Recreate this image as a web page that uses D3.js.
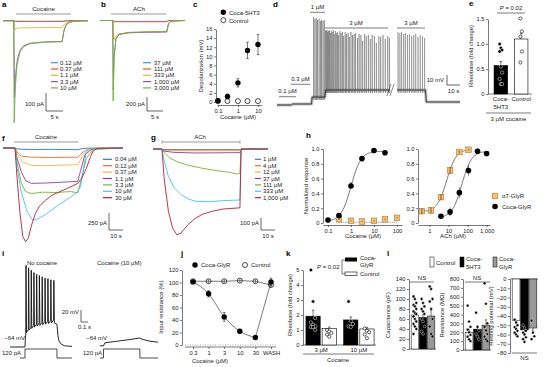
<!DOCTYPE html>
<html><head><meta charset="utf-8">
<script src="https://cdn.jsdelivr.net/npm/d3@7"></script>
<style>body{margin:0;background:#fff}svg{display:block}</style>
</head><body><svg id="c" width="554" height="367"></svg>
<script>
// ================= DATA =================
// a: cocaine-evoked currents (t s, I pA)
const aLabels = ["0.12 µM","0.37 µM","1.1 µM","3.3 µM","10 µM"];
const aColors = ["#3d9ad6","#e5533b","#f2b12b","#9a52b0","#6db33f"];
const aTraces = [
  [[0,0],[3.2,0],[3.6,-3],[17.6,-3],[19,0],[25,0]],
  [[0,1],[3.2,1],[3.6,-4],[10,-5],[17.6,-4],[19,0],[25,0]],
  [[0,0],[3.2,0],[3.5,-50],[4,-42],[6,-40],[12,-38],[17.4,-38],[18,-22],[18.8,-10],[20,-4],[22,-1],[25,0]],
  [[0,0],[3.2,0],[3.4,-425],[3.7,-300],[4.2,-215],[5,-165],[6,-140],[8,-125],[12,-118],[17.4,-115],[17.9,-60],[18.5,-25],[19.5,-10],[21,-3],[25,0]],
  [[0,0],[3.1,0],[3.3,-567],[3.6,-380],[4.1,-250],[5,-175],[6,-145],[8,-128],[12,-120],[17.4,-117],[17.9,-55],[18.6,-20],[19.5,-6],[21,-1],[25,0]]
];
// b: ACh-evoked currents
const bLabels = ["37 µM","111 µM","333 µM","1,000 µM","3,000 µM"];
const bColors = ["#3d9ad6","#e5533b","#f2b12b","#9a52b0","#6db33f"];
const bTraces = [
  [[0,0],[4,0],[4.4,-12],[20.9,-12],[21.5,0],[26.5,0]],
  [[0,0],[4,0],[4.4,-18],[20.9,-18],[21.5,0],[26.5,0]],
  [[0,0],[4,0],[4.3,-280],[4.8,-230],[6,-190],[9,-175],[15,-165],[20.8,-160],[21.4,-40],[22.2,-8],[26.5,0]],
  [[0,0],[4,0],[4.15,-990],[4.4,-500],[5,-260],[6,-200],[9,-175],[15,-168],[20.8,-165],[21.4,-40],[22.2,-8],[26.5,0]],
  [[0,0],[3.95,0],[4.1,-1150],[4.35,-550],[5,-250],[6,-195],[9,-170],[15,-160],[20.8,-158],[21.4,-40],[22.2,-8],[26.5,0]]
];
// c: depolarization
const cConc = [0.1,0.3,1,3,10];
const cCoca = [0.3,1.2,4.2,11.3,12.6];
const cCocaErr = [0.5,0.5,0.9,1.8,2.2];
const cCtrl = [0.2,0.2,0.2,0.2,0.2];
const cCtrlErr = [0.3,0.3,0.3,0.4,0.3];
// d: membrane potential (t s, mV)
const dBase1 = [[0,-70],[11,-70],[12,-69],[26.4,-69],[26.9,-62],[36.8,-62],[37.1,-55],[86.5,-55]];
const dBase2 = [[91.8,-55],[113.6,-55],[114.2,-67],[140,-67]];
const dSpikeT1 = [28.0,29.0,30.1,31.0,32.2,33.3,34.1,35.2,36.2];
const dSpikeP1 = [18,16,17,15,16,14,15,14,15];
const dSpikeT2 = [37.2,37.7,38.3,38.8,39.4,40.1,40.7,41.5,42.2,43.0,43.7,44.6,45.4,46.3,47.1,48.2,49.0,50.1,51.0,52.2,53.1,54.4,55.3,56.6,57.8,59.0,60.1,61.6,62.8,64.2,65.5,67.0,68.3,69.9,71.4,72.8,74.5,76.0,77.9,79.3,81.1,82.8,84.7,86.0];
const dSpikeP2 = [5,4,5,3,4,5,2,4,3,5,1,4,2,3,0,4,2,3,-1,3,1,2,-2,3,0,1,2,-3,1,0,-6,1,-1,0,-4,0,-1,-8,-1,-2,0,-4,-1,-3];
const dSpikeT3 = [92.6,94.0,95.3,96.9,98.2,99.8,101.3,103.0,104.6,106.1,107.9,109.6,111.3,112.9];
const dSpikeP3 = [3,2,3,1,2,0,1,-1,0,1,-2,0,-1,-3];
// e: rheobase
const eCats = ["Coca-5HT3","Control"];
const eMeans = [0.57,1.1];
const eErr = [0.08,0.12];
const eCocaDots = [1.0,0.92,0.88,0.85,0.55,0.43,0.3,0.2,0.2];
const eCtrlDots = [1.51,1.25,1.15,0.85,0.63];
// f: cocaine currents (Coca-GlyR)
const fLabels = ["0.04 µM","0.12 µM","0.37 µM","1.1 µM","3.3 µM","10 µM","30 µM"];
const fgColors = ["#2b7bba","#ee6a3a","#f4b53f","#8d3ea3","#7bb03c","#4ac0ec","#b3203c"];
const fTraces = [
  [[0,0],[8.5,0],[10,-15],[20,-22],[35,-20],[53,-25],[56,-10],[60,-3],[70,0],[85,0]],
  [[0,0],[8.5,0],[10,-60],[13,-120],[20,-135],[35,-140],[53,-135],[56,-70],[60,-20],[65,-5],[85,0]],
  [[0,0],[8.5,0],[10,-90],[14,-210],[20,-255],[30,-260],[45,-250],[53,-245],[56,-130],[60,-35],[66,-5],[85,0]],
  [[0,0],[8.5,0],[10,-150],[13,-350],[16,-480],[20,-520],[30,-515],[45,-500],[53,-490],[55,-330],[58,-100],[63,-15],[85,0]],
  [[0,0],[8.5,0],[10,-220],[13,-520],[16,-640],[20,-670],[28,-650],[38,-655],[48,-640],[53,-660],[56,-420],[59,-150],[64,-20],[85,0]],
  [[0,0],[8.5,0],[10,-300],[13,-650],[17,-930],[21,-1060],[24,-1050],[30,-980],[40,-830],[48,-720],[53,-640],[55,-560],[57,-300],[59,-60],[61,-5],[85,0]],
  [[0,0],[8.5,0],[10,-450],[12,-950],[14,-1300],[16,-1380],[18,-1320],[20,-1150],[23,-960],[26,-850],[30,-770],[35,-690],[45,-600],[53,-520],[56,-440],[59,-300],[62,-130],[64,-40],[67,-5],[85,0]]
];
// g: ACh currents (α7-GlyR)
const gLabels = ["1 µM","4 µM","12 µM","37 µM","111 µM","333 µM","1,000 µM"];
const gTraces = [
  [[0,0],[6.4,0],[7,-5],[62,-5],[63,0],[82,0]],
  [[0,0],[6.4,0],[7,-8],[62,-8],[63,0],[82,0]],
  [[0,0],[6.4,0],[7.5,-12],[30,-14],[62,-12],[63,0],[82,0]],
  [[0,0],[6.4,0],[8,-18],[15,-28],[30,-33],[45,-32],[62,-30],[62.8,0],[82,0]],
  [[0,0],[6.4,0],[8,-30],[12,-75],[18,-110],[25,-135],[35,-160],[45,-180],[55,-195],[60,-210],[62,-200],[62.8,0],[82,0]],
  [[0,0],[6.4,0],[8,-100],[11,-230],[15,-320],[20,-380],[25,-415],[30,-435],[40,-440],[50,-430],[62,-425],[62.8,-10],[63.5,0],[82,0]],
  [[0,0],[6.4,0],[8,-250],[11,-520],[14,-660],[17,-715],[20,-700],[25,-630],[30,-580],[35,-545],[42,-520],[50,-500],[62,-490],[62.8,-10],[63.5,0],[82,0]]
];
// h: dose-response
const hLCocaConc = [0.1,0.3,1,3,10,30];
const hLCocaVal = [0.04,0.1,0.5,0.87,0.98,0.95];
const hLCocaErr = [0.01,0.02,0.04,0.03,0.02,0.02];
const hLA7Conc = [0.3,1,3,10,30,100];
const hLA7Val = [0.05,0.03,0.02,0.03,0.05,0.07];
const hRA7Conc = [0.4,1.2,4,12,37,111];
const hRA7Val = [0.16,0.17,0.35,0.71,0.96,0.99];
const hRA7Err = [0.04,0.04,0.04,0.05,0.02,0.01];
const hRCocaConc = [4,12,37,111,333,1000];
const hRCocaVal = [0.09,0.15,0.41,0.71,0.97,0.94];
const hRCocaErr = [0.01,0.04,0.05,0.05,0.02,0.01];
// Hill fit parameters [bottom, top, EC50, n]
const hFitLCoca = [0.02,0.97,1.0,2.0];
const hFitRA7 = [0.15,1.0,8,1.7];
const hFitRCoca = [0.07,0.97,50,1.7];
// i: current-clamp (t s, mV)
const iSpikeT = [0.225,0.262,0.300,0.338,0.377,0.416,0.456,0.497,0.538,0.580,0.623];
const iSpikePeak = [72,68,64,60,57,55,53,51,50,48,47];
const iTrough = [-40,-36,-33,-31,-29,-28,-27,-26,-25,-24,-24];
const iTail = [[0.671,-26],[0.685,-45],[0.7,-54],[0.73,-59],[0.78,-62],[0.886,-63]];
const iCocaTrace = [[0,-62],[0.05,-62],[0.07,-57],[0.2,-55],[0.4,-52],[0.57,-49],[0.6,-51],[0.7,-54],[0.83,-56]];
const iStepL = [[0.143,0],[0.214,0],[0.214,120],[0.671,120],[0.671,0],[0.886,0]];
const iStepR = [[0.0,0],[0.05,0],[0.05,120],[0.571,120],[0.571,0],[0.83,0]];
// j: input resistance
const jCats = ["0.3","1","3","10","30","WASH"];
const jCoca = [101,82,45,22,12,101];
const jCocaErr = [2,5,7,3,2,6];
const jCtrl = [102,102,102,103,102,96];
const jCtrlErr = [3,3,3,3,3,4];
// k: rheobase
const kGroups = ["3 µM","10 µM"];
const kMeansCoca = [1.92,1.67];
const kErrCoca = [0.4,0.2];
const kMeansCtrl = [1.1,1.07];
const kErrCtrl = [0.1,0.1];
const kDotsCoca = [[5.0,2.9,1.8,1.5,1.35,1.25,1.2,1.2,1.0],[2.9,1.6,1.4,1.25,1.2]];
const kDotsCtrl = [[1.0,0.9,0.8,0.7,0.55],[1.1,0.95,0.85,0.7,0.45]];
// l: passive properties
const lCats = ["Control","Coca-5HT3","Coca-GlyR"];
const lCapMean = [68,63,66], lCapErr = [5,6,12];
const lCapDots = [[105,100,92,88,85,80,75,72,70,65,60,55,50,45,40,30],[100,92,85,80,75,70,60,55,45,35,30],[125,120,100,95,80,60,45,30,25]];
const lResMean = [200,235,280], lResErr = [30,35,60];
const lResDots = [[500,320,260,230,200,170,150,120,100],[420,260,220,180,150,120],[750,520,300,260,220,180,150,120,100]];
const lRestMean = [-45,-55,-53], lRestErr = [2,2,3];
const lRestDots = [[-44,-47,-50,-52,-54,-56,-58,-60,-62],[-50,-53,-56,-58,-60,-63,-65,-68],[-45,-58,-62,-65]];
const lFills = ["#fff","#000","#999"];

// ================= DRAW =================
const FONT = '"Liberation Sans", Arial, Helvetica, sans-serif';
const svg = d3.select("#c");
svg.append("rect").attr("width",554).attr("height",367).attr("fill","#fff");

function txt(x,y,s,o={}){return svg.append("text").attr("x",x).attr("y",y).text(s)
  .attr("font-size",o.size||6).attr("text-anchor",o.anchor||"start").attr("font-weight",o.weight||"normal")
  .attr("font-style",o.style||"normal").attr("fill",o.fill||"#222").attr("font-family",FONT);}
function vtxt(x,y,s,size=6){return svg.append("text").attr("transform",`translate(${x},${y}) rotate(-90)`)
  .attr("text-anchor","middle").text(s).attr("font-size",size).attr("fill","#222").attr("font-family",FONT);}
function ln(x1,y1,x2,y2,w=0.6,c="#222",dash=null){const l=svg.append("line").attr("x1",x1).attr("y1",y1).attr("x2",x2).attr("y2",y2).attr("stroke",c).attr("stroke-width",w);if(dash)l.attr("stroke-dasharray",dash);return l;}
function plabel(x,y,s){txt(x,y,s,{size:8,weight:"bold",fill:"#000"});}
function trace(data,xs,ys,color,w=0.9){svg.append("path").datum(data)
  .attr("d",d3.line().x(d=>xs(d[0])).y(d=>ys(d[1]))).attr("fill","none").attr("stroke",color)
  .attr("stroke-width",w).attr("stroke-linejoin","round");}
function styleAxis(g){g.select(".domain").attr("stroke","#222").attr("stroke-width",0.6);
  g.selectAll(".tick line").attr("stroke","#222").attr("stroke-width",0.6);
  g.selectAll(".tick text").attr("font-size",5.8).attr("fill","#222").attr("font-family",FONT);}
function axL(scale,x,ticks,fmt){const g=svg.append("g").attr("transform",`translate(${x},0)`)
  .call(d3.axisLeft(scale).tickValues(ticks).tickFormat(fmt||(d=>d)).tickSize(2).tickSizeOuter(0).tickPadding(1.5));styleAxis(g);return g;}
function axB(scale,y,ticks,fmt){const g=svg.append("g").attr("transform",`translate(0,${y})`)
  .call(d3.axisBottom(scale).tickValues(ticks).tickFormat(fmt||(d=>d)).tickSize(2).tickSizeOuter(0).tickPadding(1.5));styleAxis(g);return g;}
function errV(x,y1,y2,c="#222",cap=1.3){ln(x,y1,x,y2,0.6,c);ln(x-cap,y2,x+cap,y2,0.6,c);}

// ---- panel a ----
plabel(2,7,"a");
{
  const xs=d3.scaleLinear([0,25],[3,88]), ys=d3.scaleLinear([0,-600],[20.7,128.7]);
  ln(16,14,71,14,1,"#999");
  txt(43.5,11,"Cocaine",{anchor:"middle",size:6.2});
  aTraces.forEach((t,i)=>trace(t,xs,ys,aColors[i],0.9));
  aLabels.forEach((l,i)=>{const y=62.7+i*6.3;ln(51,y,58,y,1.2,aColors[i]);txt(60,y+2,l,{size:6});});
  ln(46,93,46,111,0.7);ln(46,111,63,111,0.7);
  txt(44,106,"100 pA",{anchor:"end",size:6});txt(54.5,119,"5 s",{anchor:"middle",size:6});
}
// ---- panel b ----
plabel(101,7,"b");
{
  const xs=d3.scaleLinear([0,26.5],[100,185]), ys=d3.scaleLinear([0,-1000],[20.5,90.5]);
  ln(111,14,166,14,1,"#999");
  txt(139,11,"ACh",{anchor:"middle",size:6.2});
  bTraces.forEach((t,i)=>trace(t,xs,ys,bColors[i],0.9));
  bLabels.forEach((l,i)=>{const y=62.7+i*6.3;ln(143,y,151,y,1.2,bColors[i]);txt(154,y+2,l,{size:6});});
  ln(147,97,147,111,0.7);ln(147,111,163,111,0.7);
  txt(145,106,"200 pA",{anchor:"end",size:6});txt(155,119,"5 s",{anchor:"middle",size:6});
}
// ---- panel c ----
plabel(193,7,"c");
{
  const xs=d3.scaleLog([0.09,15],[217,261.5]), ys=d3.scaleLinear([0,16],[102,29]);
  axL(ys,216,[0,2,4,6,8,10,12,14,16]);
  axB(xs,105,[0.1,1,10],d=>d);
  vtxt(203,66,"Depolarization (mV)",6);
  txt(238,119,"Cocaine (µM)",{anchor:"middle",size:6});
  cConc.forEach((c,i)=>{errV(xs(c),ys(cCtrl[i]),ys(cCtrl[i]+cCtrlErr[i]));errV(xs(c),ys(cCtrl[i]),ys(cCtrl[i]-cCtrlErr[i]));
    svg.append("circle").attr("cx",xs(c)).attr("cy",ys(cCtrl[i])).attr("r",2.5).attr("fill","#fff").attr("stroke","#000").attr("stroke-width",0.7);});
  cConc.forEach((c,i)=>{errV(xs(c),ys(cCoca[i]),ys(cCoca[i]+cCocaErr[i]));errV(xs(c),ys(cCoca[i]),ys(cCoca[i]-cCocaErr[i]));
    svg.append("circle").attr("cx",xs(c)).attr("cy",ys(cCoca[i])).attr("r",2.7).attr("fill","#000");});
  svg.append("circle").attr("cx",223.3).attr("cy",12.3).attr("r",2.7).attr("fill","#000");
  txt(229,14.5,"Coca-5HT3",{size:6});
  svg.append("circle").attr("cx",223.3).attr("cy",20.2).attr("r",2.5).attr("fill","#fff").attr("stroke","#000").attr("stroke-width",0.7);
  txt(229,22.5,"Control",{size:6});
}
// ---- panel d ----
plabel(273,7,"d");
{
  const xs=d3.scaleLinear([0,140],[277,460]), ys=d3.scaleLinear([-70,20],[105,15]);
  const baseAt=(pts,t)=>{for(let k=1;k<pts.length;k++){if(t<=pts[k][0]){const a=pts[k-1],b=pts[k];return a[1]+(b[1]-a[1])*(t-a[0])/(b[0]-a[0]);}}return pts[pts.length-1][1];};
  function build(base,sets){let pts=base.map(p=>[p[0],p[1]]);
    sets.forEach(([T,P])=>T.forEach((t,k)=>{const b=baseAt(base,t);pts.push([t-0.05,b],[t,P[k]],[t+0.15,b-3],[t+0.45,b]);}));
    pts.sort((a,b)=>a[0]-b[0]);return pts;}
  trace(dBase1,xs,ys,"#c4c4c4",3.2);trace(dBase2,xs,ys,"#c4c4c4",3.2);
  trace(build(dBase1,[[dSpikeT1,dSpikeP1],[dSpikeT2,dSpikeP2]]),xs,ys,"#6a6a6a",0.5);
  trace(build(dBase2,[[dSpikeT3,dSpikeP3]]),xs,ys,"#777",0.5);
  trace(dBase1,xs,ys,"#222",0.7);trace(dBase2,xs,ys,"#222",0.7);
  ln(387,96,391,84,0.6,"#444");ln(390,96,394,84,0.6,"#444");
  ln(279,96.7,296,96.7,0.6);txt(287.5,93,"0.1 µM",{anchor:"middle",size:6});
  ln(291,84.3,310,84.3,0.6);txt(300.5,80.5,"0.3 µM",{anchor:"middle",size:6});
  ln(310,12.3,325,12.3,0.6);txt(317.5,9,"1 µM",{anchor:"middle",size:6});
  ln(325,28,388,28,0.6);txt(356,25,"3 µM",{anchor:"middle",size:6});
  ln(397,28,425,28,0.6);txt(411,25,"3 µM",{anchor:"middle",size:6});
  ln(447,75,447,85,0.7);ln(447,85,460,85,0.7);
  txt(444,82,"10 mV",{anchor:"end",size:6});txt(453.5,93,"10 s",{anchor:"middle",size:6});
}
// ---- panel e ----
plabel(469,6,"e");
{
  const ys=d3.scaleLinear([0,1.5],[94,19]);
  const xb=d3.scaleBand(eCats,[490,532]).paddingInner(0.33).paddingOuter(0.2);
  axL(ys,488,[0,0.5,1,1.5],d=>d===0?"0":d3.format(".1f")(d));
  ln(488,94,532,94,0.6);
  vtxt(473,56,"Rheobase (fold change)",5.8);
  eCats.forEach((c,i)=>{const x=xb(c),w=xb.bandwidth();
    errV(x+w/2,ys(eMeans[i]),ys(eMeans[i]+eErr[i]));
    svg.append("rect").attr("x",x).attr("y",ys(eMeans[i])).attr("width",w).attr("height",94-ys(eMeans[i]))
      .attr("fill",i===0?"#000":"#fff").attr("stroke","#000").attr("stroke-width",0.6);});
  const cx0=xb(eCats[0])+xb.bandwidth()/2, cx1=xb(eCats[1])+xb.bandwidth()/2;
  eCocaDots.forEach((v,k)=>svg.append("circle").attr("cx",cx0+((k%3)-1)*1.2).attr("cy",ys(v)).attr("r",1.7).attr("fill","#000").attr("stroke","#fff").attr("stroke-width",0.5));
  eCtrlDots.forEach((v,k)=>svg.append("circle").attr("cx",cx1+((k%2)-0.5)*1.5).attr("cy",ys(v)).attr("r",1.6).attr("fill","#fff").attr("stroke","#000").attr("stroke-width",0.6));
  txt(511,10,"",{anchor:"middle",size:6}).html('<tspan font-style="italic">P</tspan> = 0.02');
  ln(497,13,525,13,0.6);
  txt(cx0,101,"Coca-",{anchor:"middle",size:6});txt(cx0,108.5,"5HT3",{anchor:"middle",size:6});
  txt(cx1,101,"Control",{anchor:"middle",size:6});
  ln(486,113,531,113,0.6);txt(508.5,120.5,"3 µM cocaine",{anchor:"middle",size:6});
}
// ---- panel f ----
plabel(2,141,"f");
{
  const xs=d3.scaleLinear([0,85],[3,123]), ys=d3.scaleLinear([0,-1500],[148,250]);
  ln(14,142,78,142,1,"#999");txt(46,138.5,"Cocaine",{anchor:"middle",size:6});
  fTraces.forEach((t,i)=>trace(t,xs,ys,fgColors[i],0.9));
  fLabels.forEach((l,i)=>{const y=159.3+i*6.4;ln(103,y,112,y,1.2,fgColors[i]);txt(115,y+2,l,{size:6});});
  ln(109,213,109,230,0.7);ln(109,230,123,230,0.7);
  txt(107,225,"250 pA",{anchor:"end",size:6});txt(116,238,"10 s",{anchor:"middle",size:6});
}
// ---- panel g ----
plabel(151,140,"g");
{
  const xs=d3.scaleLinear([0,82],[153,268]), ys=d3.scaleLinear([0,-800],[149,245]);
  ln(162,142,240,142,1,"#999");ln(162,140,162,144,0.7,"#999");ln(240,140,240,144,0.7,"#999");
  txt(200,138.5,"ACh",{anchor:"middle",size:6});
  gTraces.forEach((t,i)=>trace(t,xs,ys,fgColors[i],0.9));
  gLabels.forEach((l,i)=>{const y=159.3+i*6.4;ln(255,y,261,y,1.2,fgColors[i]);txt(263,y+2,l,{size:6});});
  ln(261,218,261,230,0.7);ln(261,230,275,230,0.7);
  txt(259,225,"100 pA",{anchor:"end",size:6});txt(268,238,"10 s",{anchor:"middle",size:6});
}
// ---- panel h ----
plabel(306,138,"h");
{
  const ys=d3.scaleLinear([0,1],[223,149]);
  const xL=d3.scaleLog([0.0607,165],[323,402]), xR=d3.scaleLog([0.25,1500],[418,490]);
  const yfmt=d=>d===0?"0":d3.format(".1f")(d);
  axL(ys,323,[0,0.2,0.4,0.6,0.8,1.0],yfmt);axL(ys,418,[0,0.2,0.4,0.6,0.8,1.0],yfmt);
  axB(xL,225,[0.1,1,10,100],d=>d);axB(xR,225,[1,10,100,1000],d3.format(","));
  vtxt(308,186,"Normalized response",6);
  txt(363,238,"Cocaine (µM)",{anchor:"middle",size:6});txt(453,238,"ACh (µM)",{anchor:"middle",size:6});
  const hill=(p,c)=>p[0]+(p[1]-p[0])*Math.pow(c/p[2],p[3])/(1+Math.pow(c/p[2],p[3]));
  const fit=(p,a,b,xs)=>{const pts=d3.range(0,61).map(k=>{const c=Math.pow(10,Math.log10(a)+(Math.log10(b)-Math.log10(a))*k/60);return [c,hill(p,c)];});
    svg.append("path").datum(pts).attr("d",d3.line().x(d=>xs(d[0])).y(d=>ys(d[1]))).attr("fill","none").attr("stroke","#444").attr("stroke-width",0.7);};
  ln(xL(0.3),ys(0.01),xL(100),ys(0.01),0.6,"#222","1,1.2");
  fit(hFitLCoca,0.1,30,xL);fit(hFitRA7,0.4,111,xR);fit(hFitRCoca,4,1000,xR);
  const sq=(x,y)=>svg.append("rect").attr("x",x-2.8).attr("y",y-2.8).attr("width",5.6).attr("height",5.6).attr("fill","#f2c274").attr("stroke","#b07a2a").attr("stroke-width",0.6);
  const dot=(x,y)=>svg.append("circle").attr("cx",x).attr("cy",y).attr("r",2.8).attr("fill","#000");
  hLA7Conc.forEach((c,i)=>{sq(xL(c),ys(hLA7Val[i]));svg.append("circle").attr("cx",xL(c)).attr("cy",ys(hLA7Val[i])).attr("r",0.5).attr("fill","#333");});
  hLCocaConc.forEach((c,i)=>{errV(xL(c),ys(hLCocaVal[i]),ys(hLCocaVal[i]+hLCocaErr[i]));dot(xL(c),ys(hLCocaVal[i]));});
  hRA7Conc.forEach((c,i)=>{sq(xR(c),ys(hRA7Val[i]));ln(xR(c),ys(hRA7Val[i]-hRA7Err[i]),xR(c),ys(hRA7Val[i]+hRA7Err[i]),0.6);});
  hRCocaConc.forEach((c,i)=>{ln(xR(c),ys(hRCocaVal[i]-hRCocaErr[i]-0.02),xR(c),ys(hRCocaVal[i]+hRCocaErr[i]+0.02),0.6);dot(xR(c),ys(hRCocaVal[i]));});
  sq(495,196);txt(502,198.2,"α7-GlyR",{size:6});
  dot(495,206.5);txt(502,208.7,"Coca-GlyR",{size:6});
}
// ---- panel i ----
plabel(2,256,"i");
{
  const xs=d3.scaleLinear([0,0.886],[10,72]), ys=d3.scaleLinear([-64,80],[347,260.6]);
  const xs2=d3.scaleLinear([0,0.83],[100,158]);
  const yst=d3.scaleLinear([0,120],[358,349]);
  let pts=[[0,-64],[0.214,-64],[0.221,-45]];
  iSpikeT.forEach((t,k)=>{const prev=k===0?-45:iTrough[k-1]+5;pts.push([t,prev],[t+0.004,iSpikePeak[k]],[t+0.011,iTrough[k]]);});
  iTail.forEach(p=>pts.push(p));
  trace(pts,xs,ys,"#111",0.9);
  trace(iCocaTrace,xs2,ys,"#111",0.9);
  trace(iStepL,xs,yst,"#222",0.8);trace(iStepR,xs2,yst,"#222",0.8);
  txt(27,265,"No cocaine",{size:6});txt(97,265,"Cocaine (10 µM)",{size:6});
  txt(25,340,"−64 mV",{anchor:"end",size:6});txt(107,340,"−64 mV",{anchor:"end",size:6});
  txt(2,355,"120 pA",{size:6});txt(83,355,"120 pA",{size:6});
  ln(81,310,81,322,0.7);ln(81,322,88,322,0.7);
  txt(79,314,"20 mV",{anchor:"end",size:6});txt(84.5,329,"0.1 s",{anchor:"middle",size:6});
}
// ---- panel j ----
plabel(181,256,"j");
{
  const xs=d3.scalePoint(jCats,[193,271]), ys=d3.scaleLinear([0,120],[345,270]);
  axL(ys,182,[0,20,40,60,80,100,120]);
  axB(xs,347,jCats).select(".domain").attr("d","M185,0H276");
  ln(185,345,276,345,0.5,"#555","1,1.5");
  vtxt(163,307,"Input resistance (%)",6);
  txt(210,363,"Cocaine (µM)",{anchor:"middle",size:6});
  svg.append("path").datum(jCats.map((c,i)=>[c,jCtrl[i]])).attr("d",d3.line().x(d=>xs(d[0])).y(d=>ys(d[1]))).attr("fill","none").attr("stroke","#444").attr("stroke-width",0.7);
  svg.append("path").datum(jCats.slice(0,5).map((c,i)=>[c,jCoca[i]])).attr("d",d3.line().curve(d3.curveMonotoneX).x(d=>xs(d[0])).y(d=>ys(d[1]))).attr("fill","none").attr("stroke","#444").attr("stroke-width",0.7);
  ln(xs("30"),ys(jCoca[4]),xs("WASH"),ys(jCoca[5]),0.7,"#444");
  jCats.forEach((c,i)=>{ln(xs(c),ys(jCtrl[i]-jCtrlErr[i]),xs(c),ys(jCtrl[i]+jCtrlErr[i]),0.6);
    svg.append("circle").attr("cx",xs(c)).attr("cy",ys(jCtrl[i])).attr("r",2.5).attr("fill","none").attr("stroke","#000").attr("stroke-width",0.7);});
  jCats.forEach((c,i)=>{errV(xs(c),ys(jCoca[i]),ys(jCoca[i]+jCocaErr[i]));errV(xs(c),ys(jCoca[i]),ys(jCoca[i]-jCocaErr[i]));
    svg.append("circle").attr("cx",xs(c)).attr("cy",ys(jCoca[i])).attr("r",2.7).attr("fill","#000");});
  svg.append("circle").attr("cx",195).attr("cy",265).attr("r",2.7).attr("fill","#000");txt(201,267.2,"Coca-GlyR",{size:6});
  svg.append("circle").attr("cx",245).attr("cy",265).attr("r",2.5).attr("fill","#fff").attr("stroke","#000").attr("stroke-width",0.7);txt(251,267.2,"Control",{size:6});
}
// ---- panel k ----
plabel(286,256,"k");
{
  const ys=d3.scaleLinear([0,5],[345,270]);
  const xg=d3.scaleBand(kGroups,[304,376]).paddingInner(0.15).paddingOuter(0.03);
  const xi=d3.scaleBand(["Coca","Ctrl"],[0,xg.bandwidth()]).paddingInner(0.12).paddingOuter(0.05);
  axL(ys,303,[0,1,2,3,4,5]);ln(303,345,376,345,0.6);
  vtxt(292,305,"Rheobase (fold change)",5.8);
  kGroups.forEach((g,gi)=>{
    [["Coca",kMeansCoca,kErrCoca,kDotsCoca,"#000"],["Ctrl",kMeansCtrl,kErrCtrl,kDotsCtrl,"#fff"]].forEach(([k,m,e,dots,fill])=>{
      const x=xg(g)+xi(k),w=xi.bandwidth(),cx=x+w/2;
      errV(cx,ys(m[gi]),ys(m[gi]+e[gi]));
      svg.append("rect").attr("x",x).attr("y",ys(m[gi])).attr("width",w).attr("height",345-ys(m[gi])).attr("fill",fill).attr("stroke","#000").attr("stroke-width",0.6);
      dots[gi].forEach((v,j)=>{const dx=((j%3)-1)*2.2;
        if(k==="Coca")svg.append("circle").attr("cx",cx+dx).attr("cy",ys(v)).attr("r",1.7).attr("fill","#000").attr("stroke","#fff").attr("stroke-width",0.5);
        else svg.append("circle").attr("cx",cx+dx).attr("cy",ys(v)).attr("r",1.6).attr("fill","#fff").attr("stroke","#000").attr("stroke-width",0.6);});
    });
    txt(xg(g)+xg.bandwidth()/2,351.5,g,{anchor:"middle",size:6});
  });
  ln(303,354,374,354,0.6);txt(338,362,"Cocaine",{anchor:"middle",size:6});
  txt(317,268.5,"",{size:6}).html('<tspan font-style="italic">P</tspan> = 0.02');
  ln(342,260,342,274,0.6);ln(342,260,345,260,0.6);ln(342,274,345,274,0.6);
  svg.append("rect").attr("x",345).attr("y",257.5).attr("width",12).attr("height",4).attr("fill","#000");
  svg.append("rect").attr("x",345).attr("y",272).attr("width",12).attr("height",3.5).attr("fill","#fff").attr("stroke","#000").attr("stroke-width",0.6);
  txt(360,259.5,"Coca-",{size:6});txt(360,267,"GlyR",{size:6});txt(360,276,"Control",{size:6});
}
// ---- panel l ----
plabel(387,256,"l");
{
  [[430,"#fff"],[460,"#000"],[493,"#999"]].forEach(([x,f])=>svg.append("rect").attr("x",x).attr("y",257).attr("width",4).attr("height",10).attr("fill",f).attr("stroke","#000").attr("stroke-width",0.5));
  txt(436,264.5,"Control",{size:6});txt(466,261,"Coca-",{size:6});txt(466,268.5,"5HT3",{size:6});
  txt(499,261,"Coca-",{size:6});txt(499,268.5,"GlyR",{size:6});
  function sub(ys,axX,r0,r1,ticks,means,errs,dots,zeroY,fmt){
    axL(ys,axX,ticks,fmt);
    const xb=d3.scaleBand(lCats,[r0,r1]).paddingInner(0.08).paddingOuter(0.02);
    ln(axX,zeroY,r1+1,zeroY,0.6);
    lCats.forEach((c,i)=>{const x=xb(c),w=xb.bandwidth(),cx=x+w/2,ym=ys(means[i]);
      const up=means[i]>=0;
      errV(cx,ym,ys(means[i]+(up?errs[i]:-errs[i])),"#222",1);
      svg.append("rect").attr("x",x).attr("y",Math.min(ym,zeroY)).attr("width",w).attr("height",Math.abs(zeroY-ym)).attr("fill",lFills[i]).attr("stroke","#000").attr("stroke-width",0.5);
      dots[i].forEach((v,j)=>svg.append("circle").attr("cx",cx+((j%3)-1)*1.4).attr("cy",ys(v)).attr("r",1.4).attr("fill","#000").attr("stroke","#fff").attr("stroke-width",0.4));
    });
    return xb;
  }
  const yc=d3.scaleLinear([0,140],[349,279]);
  sub(yc,409,411,435,[0,20,40,60,80,100,120,140],lCapMean,lCapErr,lCapDots,349);
  vtxt(390,315,"Capacitance (pF)",6);
  txt(422,279.5,"NS",{anchor:"middle",size:6});ln(410,282,434,282,0.6);
  const yr=d3.scaleLinear([0,800],[350,279]);
  sub(yr,463,465,490,[0,100,200,300,400,500,600,700,800],lResMean,lResErr,lResDots,350);
  vtxt(444,315,"Resistance (MΩ)",6);
  txt(477,279.5,"NS",{anchor:"middle",size:6});ln(465,282,490,282,0.6);
  const yp=d3.scaleLinear([-80,0],[353,279]);
  sub(yp,510,512,537,[-80,-70,-60,-50,-40,-30,-20,-10,0],lRestMean,lRestErr,lRestDots,279,d=>d===0?"0":String(d).replace("-","−"));
  vtxt(493,316,"Resting potential (mV)",6);
  ln(512,353,537,353,0.6);txt(524.5,360,"NS",{anchor:"middle",size:6});
}
</script></body></html>
